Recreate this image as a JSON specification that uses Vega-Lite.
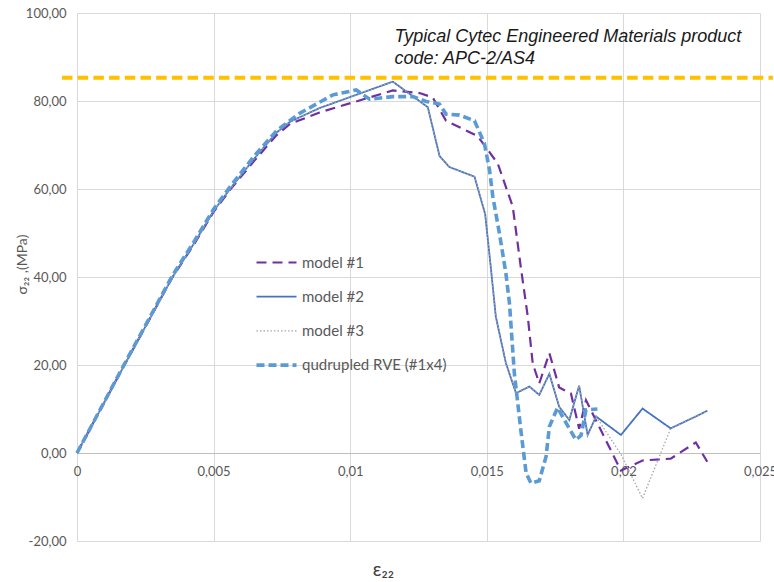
{
  "$schema": "https://vega.github.io/schema/vega-lite/v6.json",
  "width": 683,
  "height": 528,
  "autosize": {"type": "none"},
  "padding": {"left": 77, "top": 13, "right": 14, "bottom": 41},
  "background": "white",
  "config": {"view": {"stroke": null}, "font": "Lato"},
  "layer": [
    {
      "data": {"values": [
        {"m":"model #1","x":0,"y":0},{"m":"model #1","x":0.0017,"y":19.6},{"m":"model #1","x":0.0035,"y":40},{"m":"model #1","x":0.0043,"y":47.6},{"m":"model #1","x":0.005,"y":54.8},{"m":"model #1","x":0.0056,"y":59.8},{"m":"model #1","x":0.0065,"y":66.5},{"m":"model #1","x":0.0073,"y":72.2},{"m":"model #1","x":0.0078,"y":74.8},{"m":"model #1","x":0.00888,"y":77.4},{"m":"model #1","x":0.01022,"y":79.9},{"m":"model #1","x":0.01156,"y":82.4},{"m":"model #1","x":0.01254,"y":81.8},{"m":"model #1","x":0.01302,"y":80.8},{"m":"model #1","x":0.01351,"y":75.5},{"m":"model #1","x":0.01467,"y":72},{"m":"model #1","x":0.0154,"y":65.8},{"m":"model #1","x":0.01595,"y":56},{"m":"model #1","x":0.01625,"y":42},{"m":"model #1","x":0.0165,"y":31},{"m":"model #1","x":0.01668,"y":20.4},{"m":"model #1","x":0.01692,"y":15.8},{"m":"model #1","x":0.01729,"y":22.7},{"m":"model #1","x":0.01765,"y":14.9},{"m":"model #1","x":0.01808,"y":13.5},{"m":"model #1","x":0.01838,"y":5.5},{"m":"model #1","x":0.01863,"y":12},{"m":"model #1","x":0.01991,"y":-4},{"m":"model #1","x":0.0207,"y":-1.7},{"m":"model #1","x":0.02173,"y":-1.3},{"m":"model #1","x":0.02265,"y":2.4},{"m":"model #1","x":0.02307,"y":-2},
        {"m":"model #2","x":0,"y":0},{"m":"model #2","x":0.0017,"y":19.6},{"m":"model #2","x":0.0035,"y":40},{"m":"model #2","x":0.0043,"y":47.8},{"m":"model #2","x":0.005,"y":55},{"m":"model #2","x":0.0056,"y":60},{"m":"model #2","x":0.0065,"y":67},{"m":"model #2","x":0.0073,"y":72.8},{"m":"model #2","x":0.0078,"y":75.3},{"m":"model #2","x":0.00888,"y":78.4},{"m":"model #2","x":0.01022,"y":81.4},{"m":"model #2","x":0.01156,"y":84.4},{"m":"model #2","x":0.01284,"y":78.6},{"m":"model #2","x":0.01327,"y":67.5},{"m":"model #2","x":0.01363,"y":65},{"m":"model #2","x":0.01455,"y":62.8},{"m":"model #2","x":0.01494,"y":54.3},{"m":"model #2","x":0.01515,"y":42},{"m":"model #2","x":0.01533,"y":31},{"m":"model #2","x":0.0157,"y":20.4},{"m":"model #2","x":0.01607,"y":13.6},{"m":"model #2","x":0.01656,"y":15.1},{"m":"model #2","x":0.01692,"y":13.2},{"m":"model #2","x":0.01729,"y":18},{"m":"model #2","x":0.01765,"y":10.5},{"m":"model #2","x":0.01802,"y":7.5},{"m":"model #2","x":0.01838,"y":15.3},{"m":"model #2","x":0.01869,"y":4.1},{"m":"model #2","x":0.019,"y":8.3},{"m":"model #2","x":0.01991,"y":4.1},{"m":"model #2","x":0.0207,"y":10.1},{"m":"model #2","x":0.02173,"y":5.6},{"m":"model #2","x":0.02265,"y":8.3},{"m":"model #2","x":0.02307,"y":9.6},
        {"m":"model #3","x":0,"y":0},{"m":"model #3","x":0.0017,"y":19.6},{"m":"model #3","x":0.0035,"y":40},{"m":"model #3","x":0.0043,"y":47.8},{"m":"model #3","x":0.005,"y":55},{"m":"model #3","x":0.0056,"y":60},{"m":"model #3","x":0.0065,"y":67},{"m":"model #3","x":0.0073,"y":72.8},{"m":"model #3","x":0.0078,"y":75.3},{"m":"model #3","x":0.00888,"y":78.4},{"m":"model #3","x":0.01022,"y":81.4},{"m":"model #3","x":0.01156,"y":84.4},{"m":"model #3","x":0.01284,"y":78.6},{"m":"model #3","x":0.01327,"y":67.5},{"m":"model #3","x":0.01363,"y":65},{"m":"model #3","x":0.01455,"y":62.8},{"m":"model #3","x":0.01494,"y":54.3},{"m":"model #3","x":0.01515,"y":42},{"m":"model #3","x":0.01533,"y":31},{"m":"model #3","x":0.0157,"y":20.4},{"m":"model #3","x":0.01607,"y":13.6},{"m":"model #3","x":0.01656,"y":15.1},{"m":"model #3","x":0.01692,"y":13.2},{"m":"model #3","x":0.01729,"y":18},{"m":"model #3","x":0.01765,"y":10.5},{"m":"model #3","x":0.01802,"y":7.5},{"m":"model #3","x":0.01838,"y":15.3},{"m":"model #3","x":0.01869,"y":4.1},{"m":"model #3","x":0.019,"y":8.3},{"m":"model #3","x":0.01991,"y":-0.3},{"m":"model #3","x":0.0207,"y":-10.3},{"m":"model #3","x":0.02173,"y":5.6},{"m":"model #3","x":0.02265,"y":8.3},{"m":"model #3","x":0.02307,"y":9.6},
        {"m":"qudrupled RVE (#1x4)","x":0,"y":0},{"m":"qudrupled RVE (#1x4)","x":0.0017,"y":19.8},{"m":"qudrupled RVE (#1x4)","x":0.0035,"y":40.4},{"m":"qudrupled RVE (#1x4)","x":0.0043,"y":48.2},{"m":"qudrupled RVE (#1x4)","x":0.005,"y":55.4},{"m":"qudrupled RVE (#1x4)","x":0.0056,"y":60.5},{"m":"qudrupled RVE (#1x4)","x":0.0065,"y":67.6},{"m":"qudrupled RVE (#1x4)","x":0.0073,"y":73.2},{"m":"qudrupled RVE (#1x4)","x":0.0078,"y":75.6},{"m":"qudrupled RVE (#1x4)","x":0.00815,"y":77.2},{"m":"qudrupled RVE (#1x4)","x":0.00937,"y":81.4},{"m":"qudrupled RVE (#1x4)","x":0.01022,"y":82.5},{"m":"qudrupled RVE (#1x4)","x":0.01071,"y":80.4},{"m":"qudrupled RVE (#1x4)","x":0.01156,"y":81},{"m":"qudrupled RVE (#1x4)","x":0.01229,"y":81},{"m":"qudrupled RVE (#1x4)","x":0.01278,"y":79.9},{"m":"qudrupled RVE (#1x4)","x":0.01327,"y":79.3},{"m":"qudrupled RVE (#1x4)","x":0.01351,"y":77},{"m":"qudrupled RVE (#1x4)","x":0.014,"y":76.8},{"m":"qudrupled RVE (#1x4)","x":0.01455,"y":75.5},{"m":"qudrupled RVE (#1x4)","x":0.01491,"y":70.4},{"m":"qudrupled RVE (#1x4)","x":0.0151,"y":64.3},{"m":"qudrupled RVE (#1x4)","x":0.01522,"y":58.3},{"m":"qudrupled RVE (#1x4)","x":0.01546,"y":50},{"m":"qudrupled RVE (#1x4)","x":0.0157,"y":40.8},{"m":"qudrupled RVE (#1x4)","x":0.01583,"y":34},{"m":"qudrupled RVE (#1x4)","x":0.01601,"y":18},{"m":"qudrupled RVE (#1x4)","x":0.01625,"y":5},{"m":"qudrupled RVE (#1x4)","x":0.01644,"y":-4.6},{"m":"qudrupled RVE (#1x4)","x":0.01662,"y":-6.9},{"m":"qudrupled RVE (#1x4)","x":0.01692,"y":-6.3},{"m":"qudrupled RVE (#1x4)","x":0.01717,"y":-0.8},{"m":"qudrupled RVE (#1x4)","x":0.01729,"y":6},{"m":"qudrupled RVE (#1x4)","x":0.01759,"y":10.3},{"m":"qudrupled RVE (#1x4)","x":0.01784,"y":7.5},{"m":"qudrupled RVE (#1x4)","x":0.01826,"y":3},{"m":"qudrupled RVE (#1x4)","x":0.01845,"y":4},{"m":"qudrupled RVE (#1x4)","x":0.01863,"y":9.8},{"m":"qudrupled RVE (#1x4)","x":0.01905,"y":10}
      ]},
      "mark": {"type": "line", "clip": false},
      "encoding": {
        "x": {"field": "x", "type": "quantitative",
          "scale": {"domain": [0, 0.025], "nice": false, "zero": false},
          "axis": {"values": [0, 0.005, 0.01, 0.015, 0.02, 0.025],
            "labelExpr": "replace(format(datum.value, '.3~f'), '.', ',')",
            "offset": -88, "domainColor": "#BFBFBF", "domainWidth": 1.2, "ticks": false,
            "labelPadding": 12, "labelFlush": false, "labelColor": "#595959", "labelFontSize": 13,
            "grid": true, "gridColor": "#D9D9D9",
            "title": "ε₂₂", "titleColor": "#404040", "titleFontSize": 19, "titleFontWeight": "normal",
            "titleX": 306, "titleY": 122, "titleBaseline": "alphabetic"}},
        "y": {"field": "y", "type": "quantitative",
          "scale": {"domain": [-20, 100], "nice": false},
          "axis": {"values": [-20, 0, 20, 40, 60, 80, 100],
            "labelExpr": "replace(replace(format(datum.value, '.2f'), '.', ','), '−', '-')",
            "domain": false, "ticks": false, "labelPadding": 11, "labelColor": "#595959", "labelFontSize": 13,
            "grid": true, "gridColor": "#D9D9D9",
            "title": "σ₂₂ ,(MPa)", "titleColor": "#595959", "titleFontSize": 14, "titleFontWeight": "normal",
            "titleX": -55, "titleY": 251, "titleAngle": -90, "titleAlign": "center", "titleBaseline": "middle"}},
        "color": {"field": "m", "type": "nominal",
          "scale": {"domain": ["model #1", "model #2", "model #3", "qudrupled RVE (#1x4)"], "range": ["#7030A0", "#4472C4", "#A5A5A5", "#5B9BD5"]},
          "legend": {"orient": "none", "legendX": 192, "legendY": 242, "title": null, "padding": 0,
            "symbolType": "stroke", "symbolSize": 1600, "rowPadding": 18.2, "labelOffset": 18,
            "labelFontSize": 15, "labelColor": "#595959", "labelFont": "Lato",
            "encode": {"symbols": {"update": {"strokeWidth": {"signal": "datum.value === 'qudrupled RVE (#1x4)' ? 3.6 : datum.value === 'model #1' ? 2.2 : datum.value === 'model #2' ? 1.8 : 1.3"}}}}}},
        "strokeDash": {"field": "m", "type": "nominal",
          "scale": {"domain": ["model #1", "model #2", "model #3", "qudrupled RVE (#1x4)"], "range": [[10, 6], [1, 0], [1.5, 2], [8, 4]]}},
        "strokeWidth": {
          "condition": [
            {"test": "datum.m === 'qudrupled RVE (#1x4)'", "value": 3.6},
            {"test": "datum.m === 'model #1'", "value": 2.2},
            {"test": "datum.m === 'model #2'", "value": 1.8}
          ],
          "value": 1.3}
      }
    },
    {
      "data": {"values": [{"level": 85.3, "from": -0.00055, "to": 0.02547}]},
      "mark": {"type": "rule", "stroke": "#FFC000", "strokeWidth": 4, "strokeDash": [10.5, 5.2], "clip": false},
      "encoding": {
        "y": {"field": "level", "type": "quantitative"},
        "x": {"field": "from", "type": "quantitative"},
        "x2": {"field": "to"}
      }
    },
    {
      "data": {"values": [{"note": ["Typical Cytec Engineered Materials product", "code: APC-2/AS4"], "nx": 0.011623, "ny": 93.4}]},
      "mark": {"type": "text", "font": "Liberation Sans", "fontStyle": "italic", "fontSize": 18, "color": "#1a1a1a",
        "align": "left", "baseline": "alphabetic", "lineHeight": 21.5, "clip": false},
      "encoding": {
        "x": {"field": "nx", "type": "quantitative"},
        "y": {"field": "ny", "type": "quantitative"},
        "text": {"field": "note"}
      }
    }
  ]
}
